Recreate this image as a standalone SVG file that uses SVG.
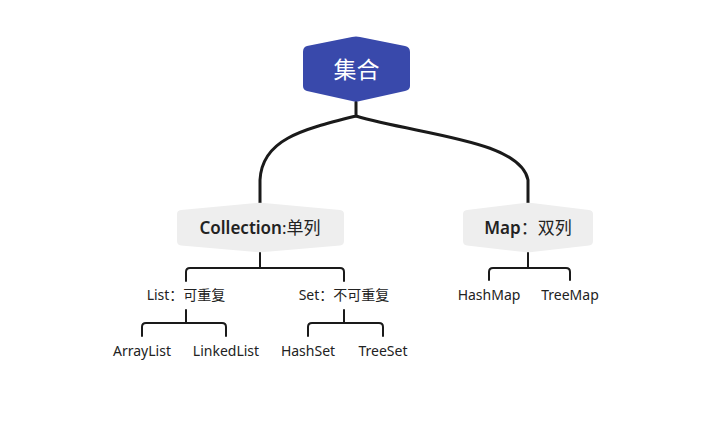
<svg xmlns="http://www.w3.org/2000/svg" width="702" height="446" viewBox="0 0 702 446">
<style>
.conn{fill:none;stroke:#1a1a1a;stroke-linecap:round;stroke-linejoin:round}
.main{stroke-width:3}
.sub{stroke-width:2}
.t{font-family:"Noto Sans","Noto Sans CJK SC",sans-serif;fill:#222;text-anchor:middle}
.leaf{font-size:14px}
.mid{font-size:17px}
.b{font-weight:600}
</style>
<rect width="702" height="446" fill="#ffffff"/>
<g id="connectors">
<path class="conn main" d="M356,102 V116 C300,130 262,140 260,180 V205"/>
<path class="conn main" d="M356,116 C420,135 520,140 528,180 V205"/>
<path class="conn sub" d="M260,252 V268 M190,268 H340 Q344,268 344,272 V281 M190,268 Q186,268 186,272 V281"/>
<path class="conn sub" d="M186,310 V323 M146,323 H222 Q226,323 226,327 V336 M146,323 Q142,323 142,327 V336"/>
<path class="conn sub" d="M344,310 V323 M312,323 H379 Q383,323 383,327 V336 M312,323 Q308,323 308,327 V336"/>
<path class="conn sub" d="M528,252 V268 M493,268 H566 Q570,268 570,272 V280 M493,268 Q489,268 489,272 V280"/>
</g>
<g id="root">
<path d="M307,46 L352,37 Q356,36 360,37 L405,46 Q410,47 410,52 L410,86 Q410,90 405,91 L360,101 Q356,102 352,101 L307,91 Q303,90 303,86 L303,52 Q303,47 307,46 Z" fill="#3949AB"/>
<text class="t" x="356.5" y="77.5" font-size="23" style="fill:#fff">集合</text>
</g>
<g id="collection">
<path d="M181,210 L256,203 Q260,202.5 264,203 L340,210 Q344,210.5 344,214 L344,241 Q344,245 340,245.5 L264,252 Q260,252.5 256,252 L181,245.5 Q177,245 177,241 L177,214 Q177,210.5 181,210 Z" fill="#EEEEEE"/>
<text class="t mid" x="260" y="234"><tspan class="b">Collection</tspan>:单列</text>
</g>
<g id="map">
<path d="M467,210 L524,203 Q528,202.5 532,203 L589,210 Q593,210.5 593,214 L593,241 Q593,245 589,245.5 L532,252 Q528,252.5 524,252 L467,245.5 Q463,245 463,241 L463,214 Q463,210.5 467,210 Z" fill="#EEEEEE"/>
<text class="t mid" x="528" y="234"><tspan class="b">Map</tspan>：双列</text>
</g>
<g id="list"><text class="t leaf" x="186" y="300">List：可重复</text></g>
<g id="set"><text class="t leaf" x="344" y="300">Set：不可重复</text></g>
<g id="arraylist"><text class="t leaf" x="142" y="356">ArrayList</text></g>
<g id="linkedlist"><text class="t leaf" x="226" y="356">LinkedList</text></g>
<g id="hashset"><text class="t leaf" x="308" y="356">HashSet</text></g>
<g id="treeset"><text class="t leaf" x="383" y="356">TreeSet</text></g>
<g id="hashmap"><text class="t leaf" x="489" y="300">HashMap</text></g>
<g id="treemap"><text class="t leaf" x="570" y="300">TreeMap</text></g>
</svg>
